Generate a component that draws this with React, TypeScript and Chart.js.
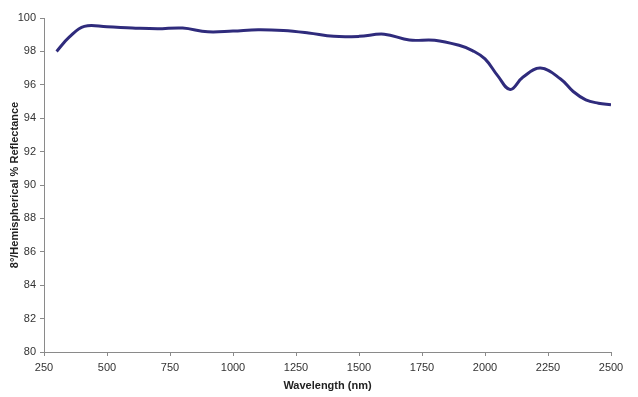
import React, { useEffect, useRef } from "react";
import { Chart, registerables } from "chart.js";

Chart.register(...registerables);

const wavelength = [300, 350, 410, 500, 600, 700, 800, 900, 1000, 1100, 1200, 1300, 1400, 1500, 1600, 1700, 1800, 1900, 1950, 2000, 2050, 2100, 2150, 2220, 2300, 2350, 2400, 2450, 2500];
const reflectance = [98.0, 98.85, 99.5, 99.47, 99.4, 99.35, 99.4, 99.17, 99.22, 99.3, 99.25, 99.1, 98.9, 98.9, 99.03, 98.68, 98.67, 98.35, 98.05, 97.55, 96.55, 95.72, 96.45, 97.0, 96.35, 95.6, 95.1, 94.9, 94.8];
const xTitle = "Wavelength (nm)";
const yTitle = "8°/Hemispherical % Reflectance";

export default function App() {
  const ref = useRef<HTMLCanvasElement>(null);
  useEffect(() => {
    document.body.style.margin = "0";
    const font = { family: "Liberation Sans, Arial, sans-serif", size: 11 };
    const chart = new Chart(ref.current!, {
      type: "scatter",
      data: {
        datasets: [
          {
            data: wavelength.map((w, i) => ({ x: w, y: reflectance[i] })),
            showLine: true,
            borderColor: "#2f2b7c",
            borderWidth: 3,
            pointRadius: 0,
            tension: 0.4,
          },
        ],
      },
      options: {
        animation: false,
        responsive: false,
        layout: { padding: { top: 18, right: 27, left: 4, bottom: 0 } },
        plugins: { legend: { display: false }, tooltip: { enabled: false } },
        scales: {
          x: {
            type: "linear",
            min: 250,
            max: 2500,
            afterFit: (s: any) => { s.height = 45; },
            ticks: { stepSize: 250, color: "#333", font, padding: 5, maxRotation: 0, callback: (v: any) => String(v) },
            grid: { drawOnChartArea: false, drawTicks: true, tickLength: 4, color: "#8a8a8a" },
            border: { color: "#8a8a8a" },
            title: { display: true, text: xTitle, color: "#222", font: { ...font, weight: "bold" }, padding: { top: 0 } },
          },
          y: {
            min: 80,
            max: 100,
            afterFit: (s: any) => { s.width = 40; },
            ticks: { stepSize: 2, color: "#333", font, padding: 4 },
            grid: { drawOnChartArea: false, drawTicks: true, tickLength: 4, color: "#8a8a8a" },
            border: { color: "#8a8a8a" },
            title: { display: true, text: yTitle, color: "#222", font: { ...font, weight: "bold" }, padding: { bottom: 0 } },
          },
        },
      },
    } as any);
    return () => chart.destroy();
  }, []);
  return (
    <div style={{ width: 638, height: 397, background: "#fff" }}>
      <canvas ref={ref} width={638} height={397} />
    </div>
  );
}
